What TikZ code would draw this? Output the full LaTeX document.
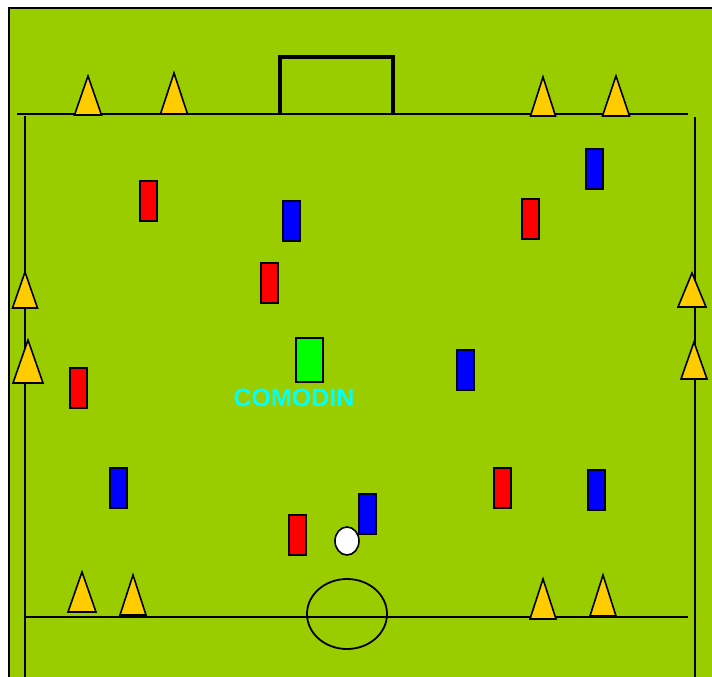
\documentclass[tikz,border=0pt]{standalone}
\usepackage{fontspec}
\setmainfont{Liberation Sans}
\definecolor{field}{RGB}{154,205,0}
\definecolor{coneyellow}{RGB}{255,204,0}
\definecolor{pred}{RGB}{255,0,0}
\definecolor{pblue}{RGB}{0,0,255}
\definecolor{pgreen}{RGB}{0,255,0}
\definecolor{labelcyan}{RGB}{0,255,255}
\tikzset{
  fieldline/.style={draw=black, line width=2pt},
  goalline/.style={draw=black, line width=3.4pt},
  conestyle/.style={fill=coneyellow, draw=black, line width=1.6pt, line join=miter},
  pics/cone/.style 2 args={code={\draw[conestyle] (-#1/2,0) -- (0,-#2) -- (#1/2,0) -- cycle;}},
  player/.style={rectangle, draw=black, line width=2pt, minimum width=17pt, minimum height=40pt, inner sep=0pt},
  redp/.style={player, fill=pred},
  bluep/.style={player, fill=pblue},
  joker/.style={player, fill=pgreen, minimum width=27pt, minimum height=44pt},
  jokerlabel/.style={text=labelcyan, font=\fontsize{25pt}{25pt}\selectfont\bfseries, inner sep=0pt},
  ballstyle/.style={ellipse, fill=white, draw=black, line width=1.6pt, minimum width=24pt, minimum height=28pt, inner sep=0pt}
}
\usetikzlibrary{shapes.geometric}
\begin{document}
\begin{tikzpicture}[x=1pt,y=-1pt]
\useasboundingbox (0,0) rectangle (712,677);
\fill[white] (0,0) rectangle (712,677);
\fill[field] (9,8) rectangle (712,677);
\draw[black, line width=2pt] (9,677) -- (9,8) -- (712,8);
% field lines
\draw[fieldline] (17,114) -- (688,114);
\draw[fieldline] (25,116) -- (25,677);
\draw[fieldline] (695,117) -- (695,677);
\draw[fieldline] (25,617) -- (688,617);
\draw[black, line width=1.8pt] (347,614) ellipse [x radius=40, y radius=35];
% goal
\draw[goalline] (280,114) -- (280,57) -- (393,57) -- (393,114);
% cones top
\pic at (88,115) {cone={27}{39}};
\pic at (174,114) {cone={27}{41}};
\pic at (543,116) {cone={25}{39}};
\pic at (616,116) {cone={27}{40}};
% cones sides
\pic at (25,308) {cone={25}{36}};
\pic at (28,383) {cone={30}{43}};
\pic at (692,307) {cone={28}{34}};
\pic at (694,379) {cone={26}{37}};
% cones bottom
\pic at (82,612) {cone={28}{40}};
\pic at (133,615) {cone={26}{40}};
\pic at (543,619) {cone={26}{40}};
\pic at (603,616) {cone={26}{41}};
% red players
\node[redp] (r1) at (148.5,201) {};
\node[redp] (r2) at (530.5,219) {};
\node[redp] (r3) at (269.5,283) {};
\node[redp] (r4) at (78.5,388) {};
\node[redp] (r5) at (502.5,488) {};
\node[redp] (r6) at (297.5,535) {};
% blue players
\node[bluep] (b1) at (594.5,169) {};
\node[bluep] (b2) at (291.5,221) {};
\node[bluep] (b3) at (465.5,370) {};
\node[bluep] (b4) at (118.5,488) {};
\node[bluep] (b5) at (596.5,490) {};
\node[bluep] (b6) at (367.5,514) {};
% joker
\node[joker] (j) at (309.5,360) {};
\node[jokerlabel] (jl) at (294,398) {COMODIN};
% ball
\node[ballstyle] (ball) at (347,541) {};
\end{tikzpicture}
\end{document}
